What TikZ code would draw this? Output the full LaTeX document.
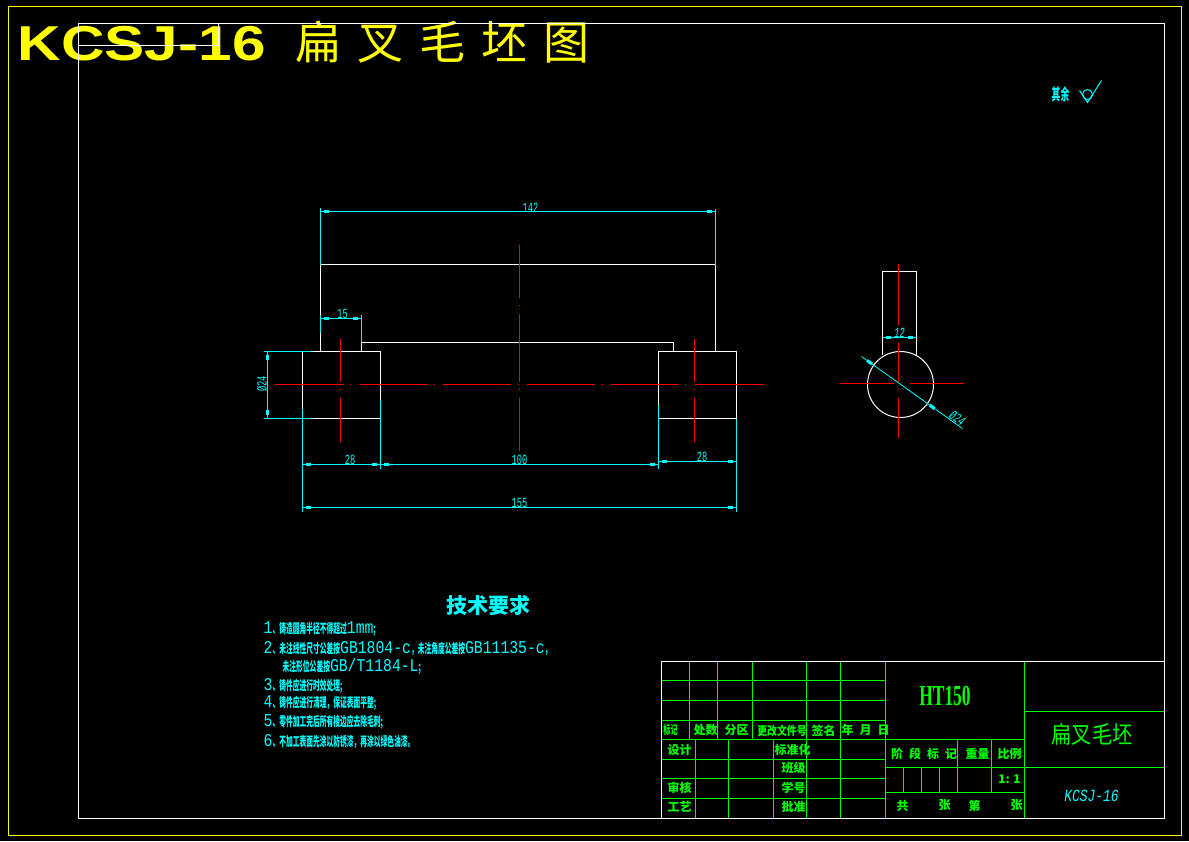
\documentclass[tikz,border=0pt]{standalone}
\usepackage{fontspec}
\usetikzlibrary{decorations.markings}
\setmainfont{Liberation Sans}
\newfontfamily\cjk{Noto Sans CJK SC}
\newfontfamily\simplex{Liberation Mono}
\newfontfamily\serifnum{Liberation Serif}
\definecolor{dwgcyan}{RGB}{0,255,255}
\definecolor{dwgyellow}{RGB}{255,255,0}
\definecolor{dwggreen}{RGB}{0,255,0}
\definecolor{dwgred}{RGB}{255,0,0}
\newcommand{\fsize}[1]{\fontsize{#1}{#1}\selectfont}
\newcommand{\narrow}[2][.6]{\scalebox{#1}[1]{#2}}
\newcommand{\lat}[1]{\scalebox{.82}[1]{\simplex\fsize{18}#1}}
\newcommand{\chn}[1]{\scalebox{.52}[1]{\cjk\bfseries\fsize{13}#1}}
\newcommand{\dimnum}[1]{\scalebox{.62}[1]{\simplex\fsize{14}#1}}
\tikzset{
    frame/.style={white, line width=1pt},
    grid line/.style={dwggreen, line width=1pt},
    center line/.style={dwgred, line width=1pt},
    dim ext/.style={dwgcyan, line width=1pt},
    dim line/.style={dwgcyan, line width=1pt, postaction={decorate},
        decoration={markings,
            mark=at position 6pt with {\fill[dwgcyan] (-2.2,-1.8) rectangle (2.2,1.8);},
            mark=at position -6pt with {\fill[dwgcyan] (-2.2,-1.8) rectangle (2.2,1.8);}}},
    leader/.style={dwgcyan, line width=.8pt, postaction={decorate},
        decoration={markings,
            mark=at position .08 with {\fill[dwgcyan] (-3,-1.6) rectangle (3,1.6);},
            mark=at position .70 with {\fill[dwgcyan] (-3,-1.6) rectangle (3,1.6);}}},
    dim text/.style={dwgcyan, inner sep=0},
    cell/.style={dwggreen, inner sep=0, font=\cjk\bfseries\fsize{12}},
    req/.style={dwgcyan, inner sep=0, anchor=west},
}
\begin{document}
\begin{tikzpicture}[x=1pt, y=-1pt]
    \useasboundingbox[fill=black] (0,0) rectangle (1189,841);
    \begin{scope}[shift={(.5,.5)}]
    % Title
    \node[dwgyellow, inner sep=0, anchor=west] (title) at (17,43)
        {\bfseries\fsize{49}\scalebox{1.23}[1]{KCSJ-16}};
    \node[dwgyellow, inner sep=0, anchor=west] (titlecn) at (295,42)
        {\cjk\fsize{46}扁\hspace{16pt}叉\hspace{16pt}毛\hspace{16pt}坯\hspace{16pt}图};
    % Frames
    \draw[dwgyellow, line width=1pt] (8,6) rectangle (1181,835);
    \draw[frame] (78,23) rectangle (1164,818);
    \draw[frame] (78,45) -- (218,45) -- (218,23);
    % Roughness note
    \node[dwgcyan, inner sep=0] (rest) at (1060,94) {\cjk\bfseries\fsize{16}\narrow[.55]{其余}};
    \draw[dwgcyan, line width=1pt] (1079,90) -- (1087,102) -- (1101,80);
    \draw[dwgcyan, line width=1pt] (1087,94) circle (5);
    % Front view
    \draw[frame] (302,351) rectangle (380,418);
    \draw[frame] (658,351) rectangle (736,418);
    \draw[frame] (320,351) -- (320,264) -- (715,264) -- (715,351);
    \draw[frame] (361,351) -- (361,342) -- (673,342) -- (673,351);
    % Centre lines
    \foreach \xa/\xb in {274/343, 349.5/350.5, 359/427, 433.5/434.5, 442/510, 517.5/518.5,
                         526/594, 601.5/602.5, 610/678, 684.5/685.5, 694/763}
        \draw[center line] (\xa,384) -- (\xb,384);
    \foreach \xc in {340,694}
        \foreach \ya/\yb in {338/381, 388.5/389.5, 397/441}
            \draw[center line] (\xc,\ya) -- (\xc,\yb);
    \foreach \ya/\yb in {244/297, 304.5/305.5, 313/381, 388/389, 397/450}
        \draw[center line] (519,\ya) -- (519,\yb);
    % Dimensions
    \draw[dim ext] (320,207) -- (320,264);
    \draw[dim ext] (715,208) -- (715,264);
    \draw[dim line] (320,211) -- (715,211);
    \node[dim text] (d142) at (530,207) {\dimnum{142}};
    \draw[dim ext] (320,314) -- (320,332);
    \draw[dim ext] (361,314) -- (361,342);
    \draw[dim line] (320,318) -- (361,318);
    \node[dim text] (d15) at (342,313) {\dimnum{15}};
    \draw[dim ext] (263,351) -- (310,351);
    \draw[dim ext] (263,418) -- (310,418);
    \draw[dim line] (267,351) -- (267,418);
    \node[dim text, rotate=90] (dphi) at (261.5,383.5) {\dimnum{Ø24}};
    \draw[dim ext] (302,408) -- (302,511);
    \draw[dim ext] (380,399) -- (380,468);
    \draw[dim ext] (658,404) -- (658,468);
    \draw[dim ext] (736,418) -- (736,511);
    \draw[dim line] (302,464) -- (380,464);
    \draw[dim line] (380,464) -- (658,464);
    \draw[dim line] (658,461) -- (736,461);
    \draw[dim line] (302,507) -- (736,507);
    \node[dim text] (d28a) at (349.5,459) {\dimnum{28}};
    \node[dim text] (d100) at (519,459) {\dimnum{100}};
    \node[dim text] (d28b) at (701.5,456) {\dimnum{28}};
    \node[dim text] (d155) at (519,502) {\dimnum{155}};
    % Side view
    \draw[frame] (882,354) -- (882,271) -- (916,271) -- (916,354);
    \draw[frame] (900,384) circle (33);
    \foreach \ya/\yb in {263/324, 342/381, 388.5/389.5, 397/437}
        \draw[center line] (898,\ya) -- (898,\yb);
    \foreach \xa/\xb in {839/893, 898/899, 909/963}
        \draw[center line] (\xa,383) -- (\xb,383);
    \draw[dim line] (882,337) -- (916,337);
    \node[dim text] (d12) at (899,332) {\itshape\dimnum{12}};
    \draw[leader] (861,356) -- (962,428);
    \node[dim text, rotate=-36] (dphib) at (957,418) {\itshape\dimnum{Ø24}};
    % Requirements
    \node[dwgcyan, inner sep=0] (reqtitle) at (487.5,605) {\cjk\bfseries\fsize{21}技术要求};
    \node[req] (r1) at (263,629) {\lat{1}\chn{、}\chn{铸造圆角半径不得超过}\lat{1mm}\chn{;}};
    \node[req] (r2) at (263,647.5) {\lat{2}\chn{、}\chn{未注线性尺寸公差按}\lat{GB1804-c}\chn{，}\chn{未注角度公差按}\lat{GB11135-c}\chn{，}};
    \node[req] (r3) at (282,666) {\chn{未注形位公差按}\lat{GB/T1184-L}\chn{;}};
    \node[req] (r4) at (263,685) {\lat{3}\chn{、}\chn{铸件应进行时效处理;}};
    \node[req] (r5) at (263,703) {\lat{4}\chn{、}\chn{铸件应进行清理，保证表面平整;}};
    \node[req] (r6) at (263,722) {\lat{5}\chn{、}\chn{零件加工完后所有棱边应去除毛刺;}};
    \node[req] (r7) at (263,741) {\lat{6}\chn{、}\chn{不加工表面先涂以防锈漆，再涂以绿色油漆。}};
    % Title block
    \foreach \yy in {680,700,720}
        \draw[grid line] (661,\yy) -- (885,\yy);
    \draw[grid line] (661,739) -- (1024,739);
    \foreach \yy in {759,778,798}
        \draw[grid line] (661,\yy) -- (885,\yy);
    \foreach \xx in {689,717,752,806,840}
        \draw[grid line] (\xx,661) -- (\xx,739);
    \foreach \xx in {695,728,773,806,840}
        \draw[grid line] (\xx,739) -- (\xx,818);
    \draw[grid line] (885,661) -- (885,818);
    \draw[grid line] (1024,661) -- (1024,818);
    \draw[grid line] (1024,711) -- (1164,711);
    \draw[grid line] (885,767) -- (1164,767);
    \draw[grid line] (885,792) -- (1024,792);
    \foreach \xx in {957,991}
        \draw[grid line] (\xx,739) -- (\xx,792);
    \foreach \xx in {903,921,939}
        \draw[grid line] (\xx,767) -- (\xx,792);
    \draw[frame] (661,661) rectangle (1164,818);
    % Title block texts
    \node[dwggreen, inner sep=0] (material) at (944.5,695) {\serifnum\bfseries\fsize{29}\narrow[.6]{HT150}};
    \node[dwggreen, inner sep=0] (partname) at (1091.5,733.5) {\cjk\fsize{24}\narrow[.84]{扁叉毛坯}};
    \node[dwgcyan, inner sep=0] (partno) at (1091,795) {\simplex\itshape\fsize{17}\narrow[.76]{KCSJ-16}};
    \node[cell] (c1) at (670,729) {\narrow{标记}};
    \node[cell] (c2) at (705,729) {处数};
    \node[cell] (c3) at (736,729) {分区};
    \node[cell] (c4) at (781.5,730) {\narrow[.82]{更改文件号}};
    \node[cell] (c5) at (823,730) {签名};
    \node[cell] (c6) at (865,729) {年\hspace{6pt}月\hspace{6pt}日};
    \node[cell] (c7) at (679,749) {设计};
    \node[cell] (c8) at (792,749) {标准化};
    \node[cell] (c9) at (793,767) {班级};
    \node[cell] (c10) at (679,787) {审核};
    \node[cell] (c11) at (793,787) {学号};
    \node[cell] (c12) at (679,806) {工艺};
    \node[cell] (c13) at (793,806) {批准};
    \node[cell] (c14) at (923.5,753) {阶\hspace{6pt}段\hspace{6pt}标\hspace{6pt}记};
    \node[cell] (c15) at (977,753) {重量};
    \node[cell] (c16) at (1009,753) {比例};
    \node[cell] (c17) at (1009,779) {1: 1};
    \node[cell] (c18) at (902,805) {共};
    \node[cell] (c19) at (944,805) {张};
    \node[cell] (c20) at (974,805) {第};
    \node[cell] (c21) at (1016,805) {张};
    \end{scope}
\end{tikzpicture}
\end{document}
